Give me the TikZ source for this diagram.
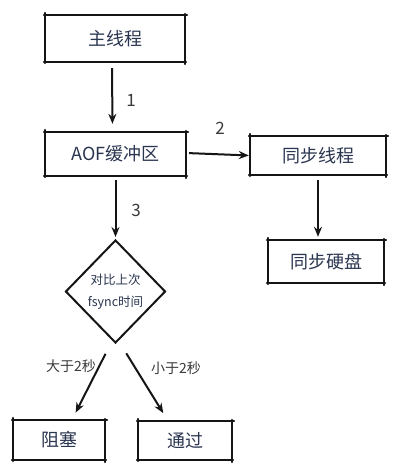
\documentclass[tikz,border=0pt]{standalone}
\usepackage{fontspec}
\setmainfont{Noto Sans CJK SC}
\usetikzlibrary{arrows.meta,shapes.geometric}
\definecolor{ink}{HTML}{2A3550}
\definecolor{lab}{HTML}{3A3A3A}
\definecolor{linec}{HTML}{151515}
\tikzset{
  box/.style={rectangle, draw=none, text=ink, font=\fontsize{18}{20}\selectfont, inner sep=0pt},
  sk/.style={draw=linec, line width=2pt, line cap=round},
  arr/.style={draw=linec, line width=2pt, -{Stealth[length=10pt,width=8pt]}},
  lbl/.style={text=lab, font=\fontsize{17}{18}\selectfont, inner sep=0pt},
  dia/.style={diamond, draw=linec, line width=2pt, inner sep=0pt, text=ink, align=center, font=\fontsize{12.5}{22}\selectfont},
}
\begin{document}
\begin{tikzpicture}[x=1pt,y=-1pt]
\useasboundingbox (0,0) rectangle (401,474);
\fill[white] (0,0) rectangle (401,474);

\node[box, minimum width=140pt, minimum height=47pt] (main) at (115,38.5) {主线程};
\node[box, minimum width=141pt, minimum height=44pt] (aof) at (115.5,154) {AOF缓冲区};
\node[box, minimum width=136pt, minimum height=39pt] (sync) at (318,155.5) {同步线程};
\node[box, minimum width=116pt, minimum height=43pt] (disk) at (326,261.5) {同步硬盘};
\node[box, minimum width=92pt, minimum height=40pt] (block) at (59,440) {阻塞};
\node[box, minimum width=94pt, minimum height=39pt] (pass) at (185,440.5) {通过};

\foreach \n in {main,aof,sync,disk,block,pass}{
  \draw[sk] ([xshift=-1pt]\n.north west) -- ([xshift=2pt]\n.north east);
  \draw[sk] ([xshift=-1pt]\n.south west) -- ([xshift=1pt]\n.south east);
  \draw[sk] ([yshift=2pt]\n.north west) -- ([yshift=-1pt]\n.south west);
  \draw[sk] ([yshift=1pt]\n.north east) -- ([yshift=-2pt]\n.south east);
}

\node[dia, minimum width=100pt, minimum height=103pt] (cmp) at (115.5,291.5) {对比上次\\fsync时间};

\draw[arr, shorten <=6pt, shorten >=8pt] ([xshift=-3pt]main.south) -- ([xshift=-3pt]aof.north);
\draw[arr, shorten <=3pt, shorten >=1pt] ([yshift=1pt]aof.east) -- (sync.west);
\draw[arr, shorten <=5pt, shorten >=3pt] (sync.south) -- (sync.south |- disk.north);
\draw[arr, shorten <=4pt, shorten >=2pt] (aof.south) -- (cmp.north);
\draw[arr, shorten <=11pt, shorten >=8pt] ([xshift=-5pt]cmp.south) -- ([xshift=13pt]block.north);
\draw[arr, shorten <=11pt, shorten >=9pt] ([xshift=5pt]cmp.south) -- ([xshift=-17pt]pass.north);

\node[lbl] (l1) at (131,100) {1};
\node[lbl] (l2) at (220,128) {2};
\node[lbl] (l3) at (136,210) {3};
\node[lbl, font=\fontsize{14}{16}\selectfont] (l4) at (71,366) {大于2秒};
\node[lbl, font=\fontsize{14}{16}\selectfont] (l5) at (176,368) {小于2秒};
\end{tikzpicture}
\end{document}
